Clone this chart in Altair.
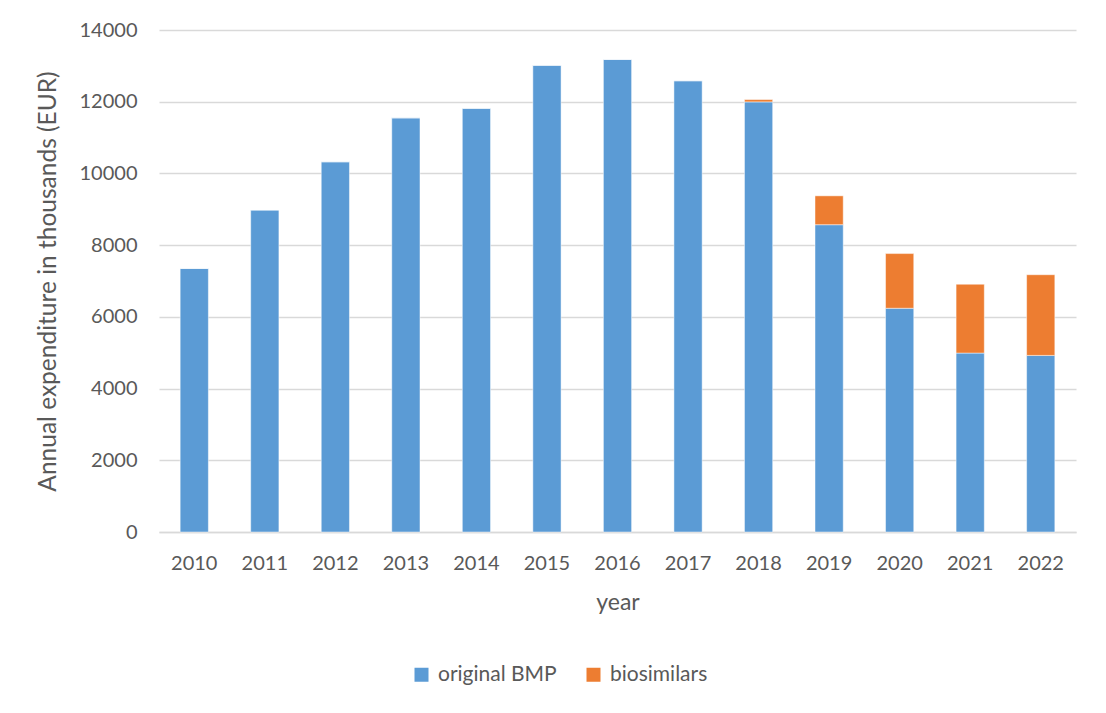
import altair as alt
import pandas as pd

years = ["2010", "2011", "2012", "2013", "2014", "2015", "2016",
         "2017", "2018", "2019", "2020", "2021", "2022"]
original_bmp = [7350, 8980, 10325, 11550, 11815, 13015, 13180,
                12585, 11995, 8570, 6240, 4990, 4925]
biosimilars = [0, 0, 0, 0, 0, 0, 0, 0, 65, 805, 1525, 1920, 2250]
series_names = ["original BMP", "biosimilars"]
series_colors = ["#5B9BD5", "#ED7D31"]
y_ticks = [0, 2000, 4000, 6000, 8000, 10000, 12000, 14000]

rows = []
for i, yr in enumerate(years):
    rows.append({"year": yr, "series": series_names[0], "value": original_bmp[i], "order": 0})
    rows.append({"year": yr, "series": series_names[1], "value": biosimilars[i], "order": 1})
df = pd.DataFrame(rows)

FONT = "Lato"
TXT = "#595959"

chart = alt.Chart(df).mark_bar(stroke="white", strokeWidth=0.8, strokeOpacity=0.6).encode(
    x=alt.X("year:N", sort=years,
            scale=alt.Scale(paddingInner=0.6, paddingOuter=0.3),
            axis=alt.Axis(title="year", labelAngle=0, ticks=False, domain=True,
                          domainColor="#D9D9D9", domainWidth=1.5,
                          labelPadding=21, titlePadding=18, titleFontSize=23)),
    y=alt.Y("value:Q", stack="zero",
            scale=alt.Scale(domain=[0, 14000], nice=False),
            axis=alt.Axis(title="Annual expenditure in thousands (EUR)",
                          values=y_ticks, format="d", ticks=False, domain=False,
                          labelPadding=22, titlePadding=19, titleFontSize=24.5,
                          gridColor="#D9D9D9", gridWidth=1.5)),
    color=alt.Color("series:N", sort=series_names,
                    scale=alt.Scale(domain=series_names, range=series_colors),
                    legend=alt.Legend(title=None, orient="none", direction="horizontal",
                                      legendX=252, legendY=634, symbolType="square",
                                      symbolSize=196, symbolStrokeWidth=0,
                                      labelOffset=6, columnPadding=26, padding=0)),
    order=alt.Order("order:Q", sort="ascending"),
).properties(
    width=917, height=502,
    autosize=alt.AutoSizeParams(type="none"),
    padding={"left": 151, "top": 22, "right": 22, "bottom": 183},
).configure_axis(
    labelFont=FONT, titleFont=FONT, labelFontSize=20,
    labelColor=TXT, titleColor=TXT, titleFontWeight="normal",
).configure_legend(
    labelFont=FONT, labelFontSize=21, labelColor=TXT,
).configure_view(stroke=None)

chart.save("out.html", embed_options={"renderer": "svg", "actions": False})
